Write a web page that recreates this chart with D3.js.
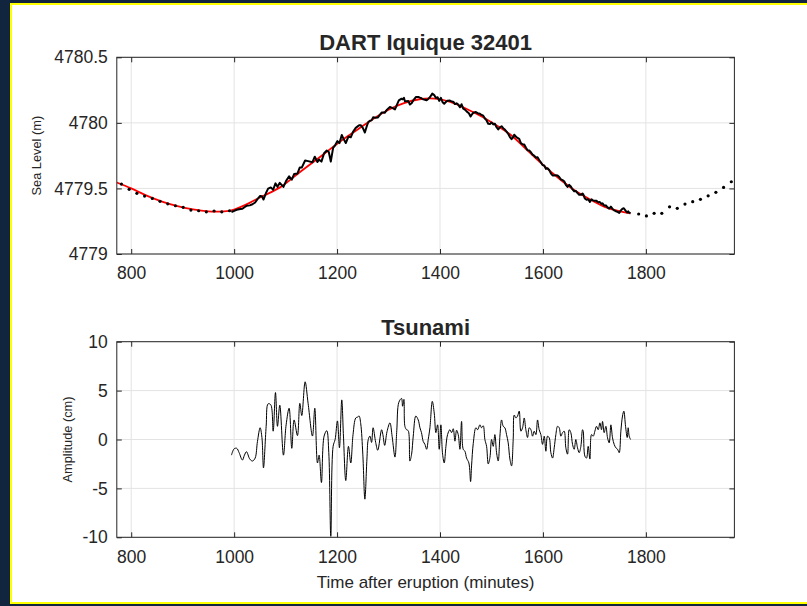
<!DOCTYPE html>
<html>
<head>
<meta charset="utf-8">
<script src="https://d3js.org/d3.v7.min.js"></script>
<style>
  body { margin: 0; background: #12253f; }
  text { font-family: "Liberation Sans", Arial, Helvetica, sans-serif; fill: #262626; }
</style>
</head>
<body>
<div id="chart"></div>
<script>
// ---- data ----
// fitted tide (red), minutes after eruption / metres
var fitTime  = [772, 800, 830, 860, 890, 920, 950, 980, 1000, 1030, 1060, 1090, 1120, 1150, 1180, 1210, 1240, 1270,
                1300, 1330, 1360, 1390, 1420, 1450, 1480, 1510, 1540, 1570, 1600, 1630, 1660, 1690, 1720, 1750, 1770];
var fitLevel = [4779.545, 4779.50, 4779.445, 4779.40, 4779.365, 4779.34, 4779.325, 4779.325, 4779.338, 4779.39, 4779.45,
                4779.51, 4779.60, 4779.69, 4779.78, 4779.87, 4779.95, 4780.03, 4780.10, 4780.15, 4780.18, 4780.185,
                4780.16, 4780.11, 4780.05, 4779.98, 4779.90, 4779.79, 4779.68, 4779.58, 4779.49, 4779.42, 4779.36,
                4779.325, 4779.31];

// 15-minute samples outside the 1-minute window (black dots)
var dotTime  = [781, 796, 811, 826, 841, 856, 871, 886, 901, 916, 931, 946, 961, 976, 991,
                1786, 1801, 1816, 1831, 1846, 1861, 1876, 1891, 1906, 1921, 1936, 1951, 1966];
var dotLevel = [4779.533, 4779.493, 4779.463, 4779.442, 4779.424, 4779.402, 4779.383, 4779.368, 4779.356, 4779.335,
                4779.330, 4779.322, 4779.328, 4779.322, 4779.330,
                4779.305, 4779.29, 4779.31, 4779.31, 4779.36, 4779.348, 4779.381, 4779.399, 4779.417, 4779.444,
                4779.47, 4779.508, 4779.551];

// tsunami residual (cm)
var tsuTime = [994.8, 1000, 1005, 1009.7, 1016, 1020, 1024, 1030.4, 1035.6, 1040.8, 1045.3, 1050.5, 1054, 1057, 1062.2,
  1066, 1071.2, 1075.8, 1080.3, 1084.2, 1088.7, 1095.8, 1101, 1106.8, 1112, 1116.5, 1123, 1127.6, 1131.4, 1137.9,
  1143.7, 1152.2, 1156.7, 1161.9, 1165.1, 1169.6, 1174.8, 1180, 1183.9, 1187.8, 1192.3, 1196.2, 1200.7, 1204.6,
  1209.1, 1212.4, 1216.9, 1222.1, 1226.6, 1231, 1236.3, 1240, 1242.8, 1246, 1250, 1254, 1258, 1260.6, 1263.8, 1267,
  1270, 1275, 1279, 1286.5, 1289, 1292.5, 1297, 1302.7, 1307, 1312.5, 1316, 1320, 1325.3, 1327.3, 1329.9, 1331.8,
  1335, 1338.3, 1341.5, 1344.8, 1348, 1353, 1357.7, 1361, 1364, 1367.4, 1370.7, 1374, 1377.1, 1380.4, 1385, 1388.8,
  1392, 1395.3, 1398.5, 1401.7, 1405, 1408.2, 1411.5, 1414.7, 1419.2, 1422.5, 1425.7, 1429, 1432.2, 1435.4, 1438.7,
  1441.9, 1445.1, 1448.4, 1451.6, 1456.1, 1459.4, 1461.3, 1464.6, 1469.7, 1473, 1477.5, 1480.7, 1484, 1487.2,
  1490.5, 1493.7, 1497, 1500.2, 1503.4, 1506.6, 1509.9, 1513.1, 1516.4, 1519.6, 1522.8, 1526, 1529.3, 1532.5,
  1535.8, 1539, 1542.2, 1544.2, 1547.4, 1550.7, 1553.9, 1557.1, 1560.4, 1563.6, 1566.8, 1570.1, 1573.3, 1576.6,
  1579.8, 1583, 1586.3, 1589.5, 1592.7, 1596, 1599.2, 1602.5, 1605.7, 1608.9, 1612.2, 1615.4, 1618.7, 1621.9,
  1625.1, 1628.4, 1631.6, 1634.8, 1638.1, 1641.3, 1644.5, 1647.8, 1651, 1654.2, 1657.5, 1660.7, 1663.9, 1667.2,
  1670.4, 1673.7, 1676.9, 1678.2, 1681.5, 1684.7, 1687.9, 1691.2, 1694.4, 1697.7, 1700.9, 1704.1, 1707.4, 1710.6,
  1713.8, 1715.8, 1719, 1722.3, 1725.5, 1728.7, 1732, 1735.2, 1738.4, 1741.7, 1745, 1748.2, 1751.4, 1754.6, 1757.2,
  1760.5, 1763.7, 1765.6, 1767.6, 1770.2];
var tsuAmp = [-1.6, -0.95, -0.9, -1.35, -2.1, -1.6, -1.25, -2.0, -2.2, -1.9, -0.2, 1.2, 0.2, -2.9, 1.35,
  3.65, 3.55, 0.85, 4.8, 1.35, 3.5, -1.6, 1.5, 3.2, -0.9, 2.0, 0.4, 3.7, 2.45, 5.9,
  3.7, 0.35, 3.2, -2.4, -1.6, -4.4, 0.35, 0.9, -1.35, -9.9, -0.7, 0.0, 1.9, -0.85,
  4.05, 0.35, -4.2, -0.7, -2.4, 0.5, 2.2, 2.3, 2.4, 1.6, -1.5, -6.1, -2.0, 0.0, 0.35, -0.3,
  1.2, -0.3, -1.1, 1.0, 0.5, -0.6, 0.8, 1.7, 0.3, -1.8, 0.9, 3.8, 4.2, 3.4, 4.1, 1.35,
  1.0, 0.9, -2.2, -1.5, 0.35, 2.4, 2.0, 1.2, 0.7, -0.2, -0.5, -1.0, 0.0, 1.2, 3.9, 2.7,
  0.7, 1.5, -1.0, 1.5, -1.5, -2.4, -0.7, 0.5, 1.0, 0.7, 1.1, -0.17, 0.95, 0.5, -1.0,
  1.85, -1.0, -1.2, -1.9, -2.4, -4.3, -2.7, -0.4, 1.2, 1.0, 1.5, 1.2, 1.4, 0.0,
  -0.7, -2.5, -1.85, 0.0, -0.7, 0.5, -1.35, -2.2, 0.35, 2.0, 1.35, 1.2, 0.5, -0.34,
  -2.0, -2.7, 0.0, 2.5, 2.2, 2.4, 2.9, 0.85, 1.2, 2.2, 1.0, 0.2, 1.2, 1.0,
  0.34, 0.85, 0.5, 2.0, 1.0, 0.5, -0.5, 0.34, -1.2, 0.34, 0.17, -1.35, -1.9, -0.85,
  0.5, 1.35, 1.2, 0.34, 0.7, 0.85, -0.85, -1.5, 1.0, 0.7, -0.5, -1.0, 0.0, -0.85,
  -1.35, -0.7, 1.0, 0.85, -1.7, -1.9, -0.7, -2.0, 0.5, 0.34, 0.85, 1.35, 1.0, 1.7,
  1.0, 1.85, 0.7, 1.35, 0.17, -0.34, 1.5, 0.17, -0.5, -0.85, -1.0, -1.35, 0.85, 2.4, 2.9,
  1.35, 0.2, 1.2, 0.34, 0.0];

var xTicks = [800, 1000, 1200, 1400, 1600, 1800];
var levelTicks = [4779, 4779.5, 4780, 4780.5];
var levelTickLabels = ["4779", "4779.5", "4780", "4780.5"];
var ampTicks = [-10, -5, 0, 5, 10];
var ampTickLabels = ["-10", "-5", "0", "5", "10"];

// ---- drawing ----
var W = 807, H = 606;
var svg = d3.select("#chart").append("svg").attr("width", W).attr("height", H);

svg.append("rect").attr("width", W).attr("height", H).attr("fill", "#12253f");
svg.append("rect").attr("x", 11).attr("y", 4).attr("width", W + 10).attr("height", 599)
  .attr("fill", "#ffffff").attr("stroke", "#ffff00").attr("stroke-width", 2);

var left = 116.8, right = 734.4;
var x = d3.scaleLinear().domain([772, 1972]).range([left, right]);
var yTop = d3.scaleLinear().domain([4779, 4780.5]).range([254, 57.3]);
var yBot = d3.scaleLinear().domain([-10, 10]).range([537.3, 341.7]);

function panel(y, yTicks, yLabels, id) {
  var r = y.range();
  var g = svg.append("g");
  g.append("clipPath").attr("id", id).append("rect")
    .attr("x", left).attr("y", r[1]).attr("width", right - left).attr("height", r[0] - r[1]);
  // grid
  g.selectAll(".gx").data(xTicks).enter().append("line")
    .attr("x1", d => x(d)).attr("x2", d => x(d)).attr("y1", r[0]).attr("y2", r[1])
    .attr("stroke", "#e3e3e3").attr("stroke-width", 1);
  g.selectAll(".gy").data(yTicks).enter().append("line")
    .attr("x1", left).attr("x2", right).attr("y1", d => y(d)).attr("y2", d => y(d))
    .attr("stroke", "#e3e3e3").attr("stroke-width", 1);
  // axes (inward ticks on all four sides)
  var ax = [
    g.append("g").attr("transform", "translate(0," + r[0] + ")")
      .call(d3.axisBottom(x).tickValues(xTicks).tickFormat(d3.format("d")).tickSize(-5).tickPadding(13)),
    g.append("g").attr("transform", "translate(0," + r[1] + ")")
      .call(d3.axisTop(x).tickValues(xTicks).tickFormat("").tickSize(-5)),
    g.append("g").attr("transform", "translate(" + left + ",0)")
      .call(d3.axisLeft(y).tickValues(yTicks).tickFormat((d, i) => yLabels[i]).tickSize(-5).tickPadding(9)),
    g.append("g").attr("transform", "translate(" + right + ",0)")
      .call(d3.axisRight(y).tickValues(yTicks).tickFormat("").tickSize(-5))
  ];
  ax.forEach(function (a) {
    a.select(".domain").remove();
    a.selectAll("line").attr("stroke", "#262626");
    a.selectAll("text").attr("font-size", 17.5).attr("fill", "#262626")
      .style("font-family", '"Liberation Sans", Arial, sans-serif');
  });
  return g;
}

// top panel
var topG = panel(yTop, levelTicks, levelTickLabels, "clipTop");
var plotTop = topG.append("g").attr("clip-path", "url(#clipTop)");

plotTop.append("path")
  .datum(fitTime.map((t, i) => [t, fitLevel[i]]))
  .attr("fill", "none").attr("stroke", "#ff0000").attr("stroke-width", 1.8)
  .attr("d", d3.line().x(d => x(d[0])).y(d => yTop(d[1])).curve(d3.curveNatural));

// observed = fitted tide + residual
var fitAt = d3.scaleLinear().domain(fitTime).range(fitLevel);
plotTop.append("path")
  .datum(tsuTime.map((t, i) => [t, fitAt(t) + tsuAmp[i] / 100]))
  .attr("fill", "none").attr("stroke", "#000").attr("stroke-width", 2).attr("stroke-linejoin", "round")
  .attr("d", d3.line().x(d => x(d[0])).y(d => yTop(d[1])));

plotTop.selectAll("circle").data(dotTime).enter().append("circle")
  .attr("cx", d => x(d)).attr("cy", (d, i) => yTop(dotLevel[i])).attr("r", 1.6).attr("fill", "#000");

topG.append("rect").attr("x", left).attr("y", 57.3).attr("width", right - left).attr("height", 254 - 57.3)
  .attr("fill", "none").attr("stroke", "#262626").attr("stroke-width", 1);

// bottom panel
var botG = panel(yBot, ampTicks, ampTickLabels, "clipBot");
botG.append("g").attr("clip-path", "url(#clipBot)").append("path")
  .datum(tsuTime.map((t, i) => [t, tsuAmp[i]]))
  .attr("fill", "none").attr("stroke", "#000").attr("stroke-width", 1).attr("stroke-linejoin", "round")
  .attr("d", d3.line().x(d => x(d[0])).y(d => yBot(d[1])).curve(d3.curveCatmullRom.alpha(0.5)));
botG.append("rect").attr("x", left).attr("y", 341.7).attr("width", right - left).attr("height", 537.3 - 341.7)
  .attr("fill", "none").attr("stroke", "#262626").attr("stroke-width", 1);

// titles and labels
var cx = (left + right) / 2;
svg.append("text").attr("x", cx).attr("y", 50).attr("text-anchor", "middle")
  .attr("font-size", 22).attr("font-weight", "bold").attr("fill", "#000").text("DART Iquique 32401");
svg.append("text").attr("x", cx).attr("y", 335).attr("text-anchor", "middle")
  .attr("font-size", 22).attr("font-weight", "bold").attr("fill", "#000").text("Tsunami");
svg.append("text").attr("x", cx).attr("y", 588).attr("text-anchor", "middle")
  .attr("font-size", 17).text("Time after eruption (minutes)");
svg.append("text").attr("transform", "translate(41," + (57.3 + 254) / 2 + ") rotate(-90)")
  .attr("text-anchor", "middle").attr("font-size", 12.8).text("Sea Level (m)");
svg.append("text").attr("transform", "translate(72," + (341.7 + 537.3) / 2 + ") rotate(-90)")
  .attr("text-anchor", "middle").attr("font-size", 12.8).text("Amplitude (cm)");
</script>
</body>
</html>
